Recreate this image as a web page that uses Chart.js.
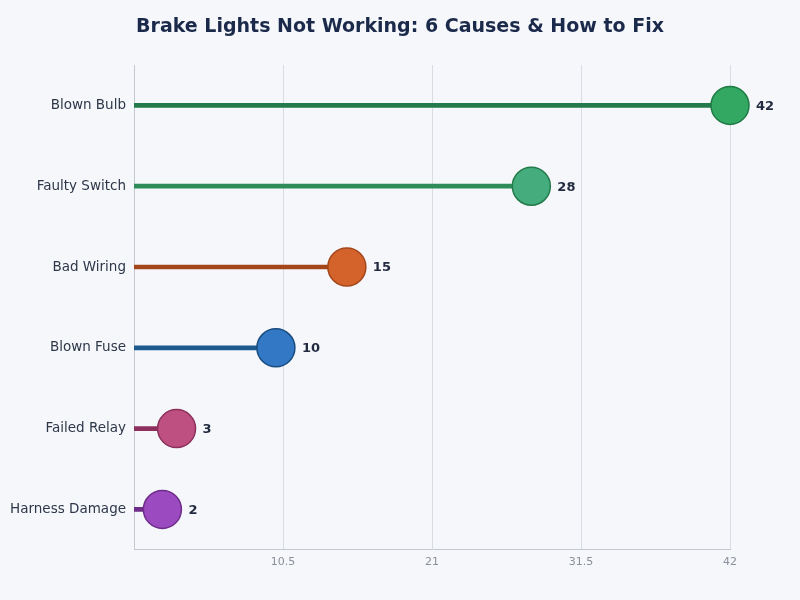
<!DOCTYPE html>
<html>
<head>
<meta charset="utf-8">
<script src="https://cdn.jsdelivr.net/npm/chart.js@4.4.1/dist/chart.umd.min.js"></script>
<style>
  html, body { margin: 0; padding: 0; background: #f5f7fb; }
  #wrap { width: 800px; height: 600px; }
</style>
</head>
<body>
<div id="wrap"><canvas id="chart"></canvas></div>
<script>
// Data
const causes = ['Blown Bulb', 'Faulty Switch', 'Bad Wiring', 'Blown Fuse', 'Failed Relay', 'Harness Damage'];
const counts = [42, 28, 15, 10, 3, 2];
const xTicks = [10.5, 21, 31.5, 42];
const chartTitle = 'Brake Lights Not Working: 6 Causes & How to Fix';

const stemColors = ['#237a4b', '#2e8b5a', '#a3461a', '#1f5a8f', '#8c2f5c', '#6e2d8a'];
const dotColors = ['#33a862', '#45ad7d', '#d4622b', '#3278c4', '#bd5080', '#9b4bbf'];
const dotBorders = ['#1f7a45', '#237a4b', '#a3461a', '#1a4d80', '#8c2f5c', '#6e2d8a'];

// title centred on the whole canvas + value labels next to each dot
const decorations = {
  id: 'decorations',
  afterDraw(chart) {
    const ctx = chart.ctx;
    ctx.save();
    ctx.font = 'bold 19px "DejaVu Sans"';
    ctx.fillStyle = '#1b2a4a';
    ctx.textAlign = 'center';
    ctx.textBaseline = 'middle';
    ctx.fillText(chartTitle, chart.width / 2, 27);

    const meta = chart.getDatasetMeta(1);
    ctx.font = 'bold 13px "DejaVu Sans"';
    ctx.fillStyle = '#222b40';
    ctx.textAlign = 'left';
    meta.data.forEach((pt, i) => {
      ctx.fillText(String(counts[i]), pt.x + 26, pt.y + 1);
    });
    ctx.restore();
  }
};

Chart.defaults.font.family = '"DejaVu Sans"';

new Chart(document.getElementById('chart').getContext('2d'), {
  type: 'bar',
  data: {
    labels: causes,
    datasets: [{
      label: 'stem',
      data: counts,
      backgroundColor: stemColors,
      barThickness: 4,
      order: 2
    }, {
      type: 'line',
      label: 'dot',
      indexAxis: 'y',
      data: causes.map((c, i) => ({ x: counts[i], y: c })),
      showLine: false,
      pointRadius: 19,
      pointHoverRadius: 19,
      pointBackgroundColor: dotColors,
      pointBorderColor: dotBorders,
      pointBorderWidth: 1.5,
      clip: false,
      order: 1
    }]
  },
  options: {
    indexAxis: 'y',
    responsive: true,
    maintainAspectRatio: false,
    animation: false,
    layout: { padding: { left: 0, right: 70, top: 65, bottom: 25 } },
    plugins: {
      legend: { display: false },
      tooltip: { enabled: false },
      title: { display: false }
    },
    scales: {
      x: {
        min: 0,
        max: 42,
        afterBuildTicks(axis) { axis.ticks = xTicks.map(v => ({ value: v })); },
        ticks: { color: '#8a8f99', font: { size: 11 }, padding: 6 },
        grid: { color: '#d9dde3', drawTicks: false },
        border: { color: '#c4c8cf' }
      },
      y: {
        afterFit(axis) { axis.width = 134; },
        ticks: { color: '#2d3748', font: { size: 13.5 }, padding: 8 },
        grid: { display: false, drawTicks: false, tickLength: 0 },
        border: { color: '#c4c8cf' }
      }
    }
  },
  plugins: [decorations]
});
</script>
</body>
</html>
